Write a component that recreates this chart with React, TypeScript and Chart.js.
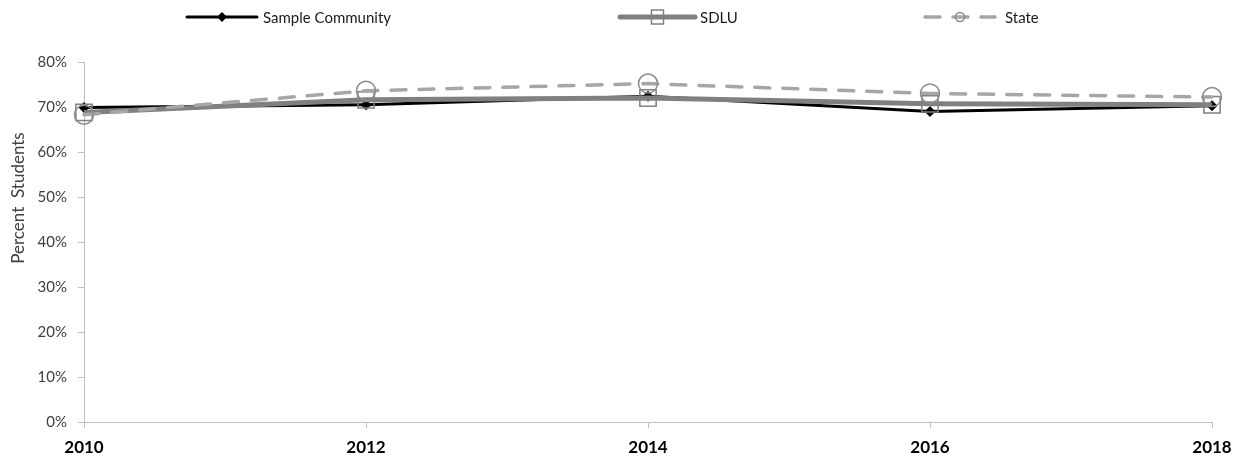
import React, { useEffect, useRef } from 'react';
import { Chart, registerables } from 'chart.js';

Chart.register(...registerables);

const years = ['2010', '2012', '2014', '2016', '2018'];
const seriesNames = ['Sample Community', 'SDLU', 'State'];
const sampleCommunity = [69.9, 70.5, 72.4, 69.0, 70.3];
const sdlu = [68.8, 71.6, 72.0, 70.7, 70.5];
const state = [68.3, 73.6, 75.2, 73.0, 72.2];
const yMin = 0;
const yMax = 80;
const yStep = 10;
const yTitle = 'Percent  Students';

const FONT = 'Lato, "Open Sans", "DejaVu Sans", sans-serif';
const TEXT = '#404040';
const AXIS = '#bfbfbf';
const C_SC = '#000000';
const C_SDLU = '#808080';
const C_STATE = '#a6a6a6';
const C_STATE_MK = '#8c8c8c';
const STATE_DASH = [15, 13];

const legendPlugin = {
  id: 'customLegend',
  afterDraw(chart: any) {
    const ctx = chart.ctx as CanvasRenderingContext2D;
    const y = 17;
    const items = [
      { x0: 187, x1: 257, tx: 263 },
      { x0: 620, x1: 695, tx: 700 },
      { x0: 925, x1: 995, tx: 1005 },
    ];
    ctx.save();
    // Sample Community
    let it = items[0];
    ctx.strokeStyle = C_SC;
    ctx.lineWidth = 3;
    ctx.lineCap = 'round';
    ctx.beginPath();
    ctx.moveTo(it.x0, y);
    ctx.lineTo(it.x1, y);
    ctx.stroke();
    const mx = (it.x0 + it.x1) / 2;
    ctx.fillStyle = C_SC;
    ctx.beginPath();
    ctx.moveTo(mx, y - 5);
    ctx.lineTo(mx + 5, y);
    ctx.lineTo(mx, y + 5);
    ctx.lineTo(mx - 5, y);
    ctx.closePath();
    ctx.fill();
    // SDLU
    it = items[1];
    ctx.strokeStyle = C_SDLU;
    ctx.lineWidth = 5;
    ctx.beginPath();
    ctx.moveTo(it.x0, y);
    ctx.lineTo(it.x1, y);
    ctx.stroke();
    const sx = (it.x0 + it.x1) / 2;
    ctx.lineWidth = 1.5;
    ctx.fillStyle = '#ffffff';
    ctx.fillRect(sx - 6, y - 7, 12, 14);
    ctx.strokeRect(sx - 6, y - 7, 12, 14);
    ctx.fillStyle = C_SDLU;
    ctx.fillRect(sx - 6, y - 2.5, 12, 5);
    // State
    it = items[2];
    ctx.strokeStyle = C_STATE;
    ctx.lineWidth = 3.5;
    ctx.setLineDash(STATE_DASH);
    ctx.beginPath();
    ctx.moveTo(it.x0, y);
    ctx.lineTo(it.x1, y);
    ctx.stroke();
    ctx.setLineDash([]);
    const cx = (it.x0 + it.x1) / 2;
    ctx.strokeStyle = C_STATE_MK;
    ctx.lineWidth = 1.5;
    ctx.beginPath();
    ctx.arc(cx, y, 4.5, 0, Math.PI * 2);
    ctx.stroke();
    // text
    ctx.fillStyle = '#1a1a1a';
    ctx.font = '15px ' + FONT;
    ctx.textBaseline = 'middle';
    ctx.textAlign = 'left';
    items.forEach((p, i) => ctx.fillText(seriesNames[i], p.tx, y + 1));
    // y axis title
    ctx.translate(19, 198);
    ctx.rotate(-Math.PI / 2);
    ctx.fillStyle = TEXT;
    ctx.font = '17px ' + FONT;
    ctx.textAlign = 'center';
    ctx.fillText(yTitle, 0, 0);
    ctx.restore();
  },
};

export default function App() {
  const ref = useRef<HTMLCanvasElement>(null);
  useEffect(() => {
    document.body.style.margin = '0';
    const ctx = ref.current!.getContext('2d')!;
    const chart = new Chart(ctx, {
      type: 'line',
      data: {
        labels: years,
        datasets: [
          {
            label: seriesNames[0],
            data: sampleCommunity,
            borderColor: C_SC,
            borderWidth: 3,
            pointStyle: 'rectRot',
            pointRadius: 5.5,
            pointBackgroundColor: C_SC,
            pointBorderColor: C_SC,
            pointBorderWidth: 0,
            tension: 0,
            order: 2,
          },
          {
            label: seriesNames[1],
            data: sdlu,
            borderColor: C_SDLU,
            borderWidth: 5,
            pointStyle: 'rect',
            pointRadius: 11.5,
            pointBackgroundColor: 'rgba(0,0,0,0)',
            pointBorderColor: C_SDLU,
            pointBorderWidth: 1.5,
            tension: 0,
            order: 1,
          },
          {
            label: seriesNames[2],
            data: state,
            borderColor: C_STATE,
            borderWidth: 3.5,
            borderDash: STATE_DASH,
            borderCapStyle: 'round',
            pointStyle: 'circle',
            pointRadius: 9.5,
            pointBackgroundColor: 'rgba(0,0,0,0)',
            pointBorderColor: C_STATE_MK,
            pointBorderWidth: 1.5,
            tension: 0,
            order: 0,
          },
        ],
      },
      options: {
        responsive: false,
        animation: false,
        layout: { padding: { top: 62, right: 31, left: 0, bottom: 0 } },
        plugins: { legend: { display: false }, tooltip: { enabled: false } },
        scales: {
          x: {
            offset: false,
            grid: {
              display: true,
              drawOnChartArea: false,
              drawTicks: true,
              tickLength: 6,
              color: AXIS,
            },
            border: { color: AXIS, width: 1 },
            ticks: {
              color: '#000000',
              font: { family: FONT, size: 17, weight: 'bold' },
              padding: 9,
              maxRotation: 0,
            },
            afterFit: (s: any) => {
              s.height = 44;
            },
          },
          y: {
            min: yMin,
            max: yMax,
            grid: {
              display: true,
              drawOnChartArea: false,
              drawTicks: true,
              tickLength: 6,
              color: AXIS,
            },
            border: { color: AXIS, width: 1 },
            ticks: {
              stepSize: yStep,
              color: TEXT,
              font: { family: FONT, size: 15 },
              padding: 11,
              callback: (v: any) => v + '%',
            },
            title: { display: false, text: yTitle },
            afterFit: (s: any) => {
              s.width = 84;
            },
          },
        },
      },
      plugins: [legendPlugin],
    });
    return () => chart.destroy();
  }, []);
  return (
    <div style={{ width: 1243, height: 466 }}>
      <canvas ref={ref} width={1243} height={466} />
    </div>
  );
}
